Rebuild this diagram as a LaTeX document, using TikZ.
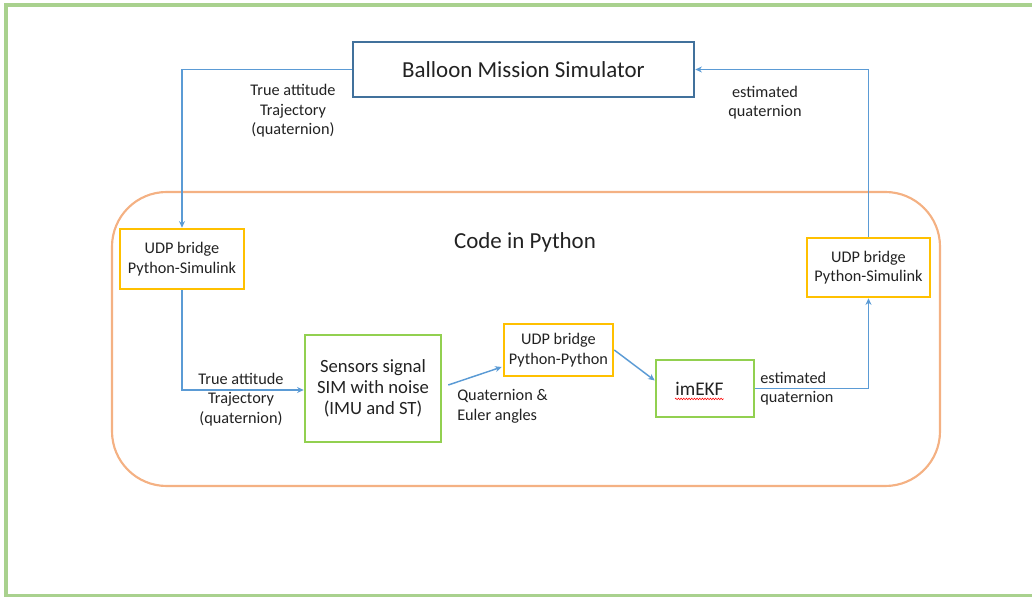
\documentclass[tikz,border=0pt]{standalone}
\usepackage{fontspec}
\setmainfont{Carlito}
\usetikzlibrary{arrows.meta,calc,decorations.pathmorphing}
\definecolor{framegreen}{HTML}{A9D18E}
\definecolor{balblue}{HTML}{41719C}
\definecolor{codeorange}{HTML}{F4B183}
\definecolor{udpyellow}{HTML}{FFC000}
\definecolor{boxgreen}{HTML}{92D050}
\definecolor{arrblue}{HTML}{5B9BD5}
\definecolor{txt}{HTML}{222222}
\begin{document}
\begin{tikzpicture}[x=0.75pt,y=-0.75pt,
  every node/.style={text=txt},
  box/.style={draw,inner sep=0pt,align=center,line width=1.9pt},
  udpbox/.style={box,draw=udpyellow,font=\fontsize{12.2}{14.6}\selectfont},
  greenbox/.style={box,draw=boxgreen},
  conn/.style={draw=arrblue,line width=1.1pt,-{Stealth[length=5pt,width=4.5pt]}},
  lbl/.style={font=\fontsize{12.2}{14.6}\selectfont,inner sep=0pt}]
\useasboundingbox (0,0) rectangle (1032,598);
\begin{scope}
\clip (0,0) rectangle (1032,598);
\draw[framegreen,line width=2.4pt] (6,5) rectangle (1045,595.5);
\end{scope}
% container
\node[draw=codeorange,line width=1.6pt,rounded corners=41pt,minimum width=828*0.75pt,minimum height=294*0.75pt,inner sep=0pt] (code) at (526,339) {};
\node[font=\fontsize{17.2}{20}\selectfont,inner sep=0pt] (codelbl) at (525,242) {Code in Python};
% boxes
\node[box,draw=balblue,minimum width=341*0.75pt,minimum height=55*0.75pt,font=\fontsize{17.2}{20}\selectfont] (bal) at (523.5,69.5) {Balloon Mission Simulator};
\node[udpbox,minimum width=124*0.75pt,minimum height=60*0.75pt] (udpl) at (182,259) {UDP bridge\\Python-Simulink};
\node[udpbox,minimum width=123*0.75pt,minimum height=59*0.75pt] (udpr) at (868.5,267.5) {UDP bridge\\Python-Simulink};
\node[udpbox,minimum width=109*0.75pt,minimum height=52*0.75pt] (udpp) at (558.5,350) {UDP bridge\\Python-Python};
\node[greenbox,minimum width=136*0.75pt,minimum height=107*0.75pt,font=\fontsize{14}{15.75}\selectfont] (sens) at (373,388.5) {Sensors signal\\SIM with noise\\(IMU and ST)};
\node[greenbox,minimum width=98*0.75pt,minimum height=57*0.75pt] (ekf) at (705,388.5) {};
\node[lbl,font=\fontsize{14.5}{17}\selectfont] (ekftxt) at (699.5,389) {imEKF};
\draw[red,line width=0.4pt,decorate,decoration={zigzag,segment length=2pt,amplitude=0.6pt}] ($(ekftxt.south west)+(0,3)$) -- ($(ekftxt.south east)+(0,3)$);
% connectors
\draw[conn] (bal.west) -| (udpl.north);
\draw[conn] (udpl.south) |- ($(sens.west)+(0,1.5)$);
\draw[conn] ($(sens.east)+(6,-3.5)$) -- ($(udpp.west)+(-1,17)$);
\draw[conn] (udpp.east) -- ($(ekf.west)+(0,-8)$);
\draw[conn] (ekf.east) -| (udpr.south);
\draw[conn] (udpr.north) |- (bal.east);
% labels
\node[lbl,align=center] (l1) at (293,111) {True attitude\\Trajectory\\(quaternion)};
\node[lbl,align=center] (l2) at (765,102.5) {estimated\\quaternion};
\node[lbl,align=center] (l3) at (241,399.5) {True attitude\\Trajectory\\(quaternion)};
\node[lbl,align=left,anchor=west] (l4) at (457,406.5) {Quaternion \&\\Euler angles};
\node[lbl,align=left,anchor=west] (l5) at (760,388.5) {estimated\\quaternion};
\end{tikzpicture}
\end{document}
